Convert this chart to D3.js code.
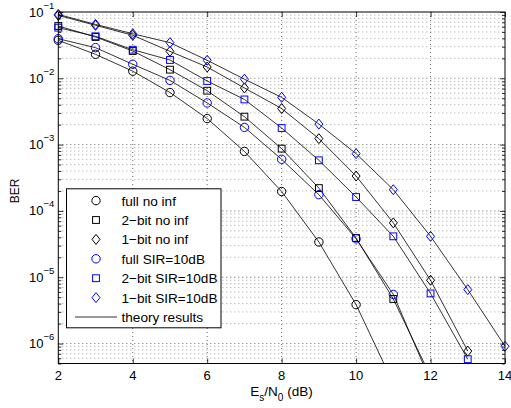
<!DOCTYPE html>
<html>
<head>
<meta charset="utf-8">
<script src="https://cdn.jsdelivr.net/npm/d3@7"></script>
<style>
  body { margin: 0; background: #fff; }
  svg { font-family: "Liberation Sans", Arial, Helvetica, sans-serif; }
  .grid line { stroke-width: 0.7; stroke-dasharray: 1,3; }
  .grid .major { stroke: #222; }
  .grid .minor { stroke: #777; }
  .ticklab { font-size: 13px; }
</style>
</head>
<body>
<div id="chart"></div>
<script>
// Data (BER vs Es/N0, x starts at 2 dB, step 1 dB)
const xStart = 2;
const fullNoInf = [0.0374, 0.023, 0.0128, 0.0061, 0.00247, 7.9e-4, 1.96e-4, 3.4e-5, 3.86e-6];
const fullSir = [0.0395, 0.029, 0.0163, 0.0093, 0.00425, 0.00182, 6.0e-4, 1.76e-4, 3.8e-5, 5.5e-6];
const twoNoInf = [0.0615, 0.042, 0.0258, 0.0135, 0.0065, 0.00264, 8.7e-4, 2.21e-4, 3.9e-5, 4.7e-6];
const twoSir = [0.058, 0.043, 0.027, 0.0189, 0.0091, 0.0048, 0.00178, 5.8e-4, 1.62e-4, 4.14e-5, 5.7e-6, 5.8e-7];
const oneNoInf = [0.089, 0.063, 0.0446, 0.0255, 0.0148, 0.00715, 0.0035, 0.00123, 3.36e-4, 6.6e-5, 9.0e-6, 7.7e-7];
const oneSir = [0.092, 0.065, 0.047, 0.0345, 0.0187, 0.0097, 0.00516, 0.00204, 7.3e-4, 2.09e-4, 4.14e-5, 6.5e-6, 9.1e-7];
// theory curves continue below the plot for some series
const fullNoInfTail = [2.5e-7];
const fullSirTail = [2.7e-7];
const twoNoInfTail = [3.2e-7];

const xTicks = [2, 4, 6, 8, 10, 12, 14];
const yDecades = [-6, -5, -4, -3, -2, -1];

const series = [
  { name: "full no inf", vals: fullNoInf, tail: fullNoInfTail, color: "#000", shape: "circle" },
  { name: "2\u2212bit no inf", vals: twoNoInf, tail: twoNoInfTail, color: "#000", shape: "square" },
  { name: "1\u2212bit no inf", vals: oneNoInf, tail: [], color: "#000", shape: "diamond" },
  { name: "full SIR=10dB", vals: fullSir, tail: fullSirTail, color: "#0000ff", shape: "circle" },
  { name: "2\u2212bit SIR=10dB", vals: twoSir, tail: [], color: "#0000ff", shape: "square" },
  { name: "1\u2212bit SIR=10dB", vals: oneSir, tail: [], color: "#0000ff", shape: "diamond" }
];

const W = 511, H = 408;
const pLeft = 58.3, pRight = 505, pTop = 12, pBottom = 363.5;

const svg = d3.select("#chart").append("svg").attr("width", W).attr("height", H);

const x = d3.scaleLinear().domain([2, 14]).range([pLeft, pRight]);
const y = d3.scaleLog().domain([5e-7, 1e-1]).range([pBottom, pTop]);

// minor log ticks
const yMinor = [];
for (let d = -7; d <= -2; d++) {
  for (let k = 2; k <= 9; k++) {
    const v = k * Math.pow(10, d);
    if (v >= 5e-7 && v <= 1e-1) yMinor.push(v);
  }
}
const yMajor = yDecades.map(d => Math.pow(10, d));

// grid
const grid = svg.append("g").attr("class", "grid");
grid.selectAll(".gx").data(xTicks.slice(1, -1)).enter().append("line").attr("class", "major")
  .attr("x1", d => x(d)).attr("x2", d => x(d)).attr("y1", pTop).attr("y2", pBottom);
grid.selectAll(".gy").data(yMajor.filter(v => v < 0.1)).enter().append("line").attr("class", "major")
  .attr("x1", pLeft).attr("x2", pRight).attr("y1", d => y(d)).attr("y2", d => y(d));
grid.selectAll(".gm").data(yMinor).enter().append("line").attr("class", "minor")
  .attr("x1", pLeft).attr("x2", pRight).attr("y1", d => y(d)).attr("y2", d => y(d));

// clip
svg.append("clipPath").attr("id", "clip").append("rect")
  .attr("x", pLeft).attr("y", pTop).attr("width", pRight - pLeft).attr("height", pBottom - pTop);

const line = d3.line().x(d => x(d[0])).y(d => y(d[1]));
const plot = svg.append("g").attr("clip-path", "url(#clip)");

series.forEach(s => {
  const pts = s.vals.concat(s.tail).map((v, i) => [xStart + i, v]);
  plot.append("path").attr("d", line(pts))
    .attr("fill", "none").attr("stroke", "#000").attr("stroke-width", 0.8);
});

function marker(g, shape, cx, cy, color) {
  if (shape === "circle") {
    g.append("circle").attr("cx", cx).attr("cy", cy).attr("r", 4.2)
      .attr("fill", "none").attr("stroke", color).attr("stroke-width", 1);
  } else if (shape === "square") {
    g.append("rect").attr("x", cx - 3.4).attr("y", cy - 3.4).attr("width", 6.8).attr("height", 6.8)
      .attr("fill", "none").attr("stroke", color).attr("stroke-width", 1);
  } else {
    g.append("path").attr("d", `M${cx},${cy - 5}L${cx + 4},${cy}L${cx},${cy + 5}L${cx - 4},${cy}Z`)
      .attr("fill", "none").attr("stroke", color).attr("stroke-width", 1);
  }
}

const marks = svg.append("g");
series.forEach(s => {
  s.vals.forEach((v, i) => marker(marks, s.shape, x(xStart + i), y(v), s.color));
});

// axes with inside ticks (MATLAB style)
svg.append("g").attr("transform", `translate(0,${pBottom})`)
  .call(d3.axisBottom(x).tickValues(xTicks).tickSize(-5).tickFormat(""))
  .call(g => g.select(".domain").remove());
svg.append("g").attr("transform", `translate(0,${pTop})`)
  .call(d3.axisTop(x).tickValues(xTicks).tickSize(-5).tickFormat(""))
  .call(g => g.select(".domain").remove());
svg.append("g").attr("transform", `translate(${pLeft},0)`)
  .call(d3.axisLeft(y).tickValues(yMajor).tickSize(-5).tickFormat(""))
  .call(g => g.select(".domain").remove());
svg.append("g").attr("transform", `translate(${pLeft},0)`)
  .call(d3.axisLeft(y).tickValues(yMinor).tickSize(-3).tickFormat(""))
  .call(g => g.select(".domain").remove());
svg.append("g").attr("transform", `translate(${pRight},0)`)
  .call(d3.axisRight(y).tickValues(yMajor).tickSize(-5).tickFormat(""))
  .call(g => g.select(".domain").remove());
svg.append("g").attr("transform", `translate(${pRight},0)`)
  .call(d3.axisRight(y).tickValues(yMinor).tickSize(-3).tickFormat(""))
  .call(g => g.select(".domain").remove());
svg.selectAll(".tick line").attr("stroke", "#000").attr("stroke-width", 0.8);

svg.append("rect").attr("x", pLeft).attr("y", pTop).attr("width", pRight - pLeft).attr("height", pBottom - pTop)
  .attr("fill", "none").attr("stroke", "#000").attr("stroke-width", 1);

// tick labels
svg.selectAll(".xlab").data(xTicks).enter().append("text").attr("class", "ticklab")
  .attr("x", d => x(d)).attr("y", pBottom + 16).attr("text-anchor", "middle").text(d => d);

svg.selectAll(".ylab").data(yDecades).enter().append("text").attr("class", "ticklab")
  .attr("x", 43.5).attr("y", d => y(Math.pow(10, d)) + 4.5).attr("text-anchor", "end").text("10");
svg.selectAll(".ysup").data(yDecades).enter().append("text")
  .attr("x", 43.5).attr("y", d => y(Math.pow(10, d)) - 3.5).attr("font-size", 9.5)
  .text(d => "\u2212" + Math.abs(d));

// axis titles
svg.append("text").attr("transform", `translate(18.5,191) rotate(-90)`)
  .attr("text-anchor", "middle").attr("font-size", 12).text("BER");
const xt = svg.append("text").attr("x", 281.5).attr("y", 396).attr("text-anchor", "middle").attr("font-size", 13.5);
xt.append("tspan").text("E");
xt.append("tspan").attr("dy", 4.5).attr("font-size", 10).text("s");
xt.append("tspan").attr("dy", -4.5).text("/N");
xt.append("tspan").attr("dy", 4.5).attr("font-size", 10).text("0");
xt.append("tspan").attr("dy", -4.5).text(" (dB)");

// legend
const lg = svg.append("g");
lg.append("rect").attr("x", 66.5).attr("y", 188.8).attr("width", 154.5).attr("height", 139)
  .attr("fill", "#fff").attr("stroke", "#000").attr("stroke-width", 1);
const rowY = i => 200.6 + i * 19.4;
series.forEach((s, i) => {
  marker(lg, s.shape, 96, rowY(i), s.color);
  lg.append("text").attr("x", 121.5).attr("y", rowY(i) + 5).attr("font-size", 13.6).text(s.name);
});
lg.append("line").attr("x1", 75).attr("x2", 117).attr("y1", rowY(6)).attr("y2", rowY(6))
  .attr("stroke", "#000").attr("stroke-width", 0.8);
lg.append("text").attr("x", 121.5).attr("y", rowY(6) + 5).attr("font-size", 13.6).text("theory results");
</script>
</body>
</html>
